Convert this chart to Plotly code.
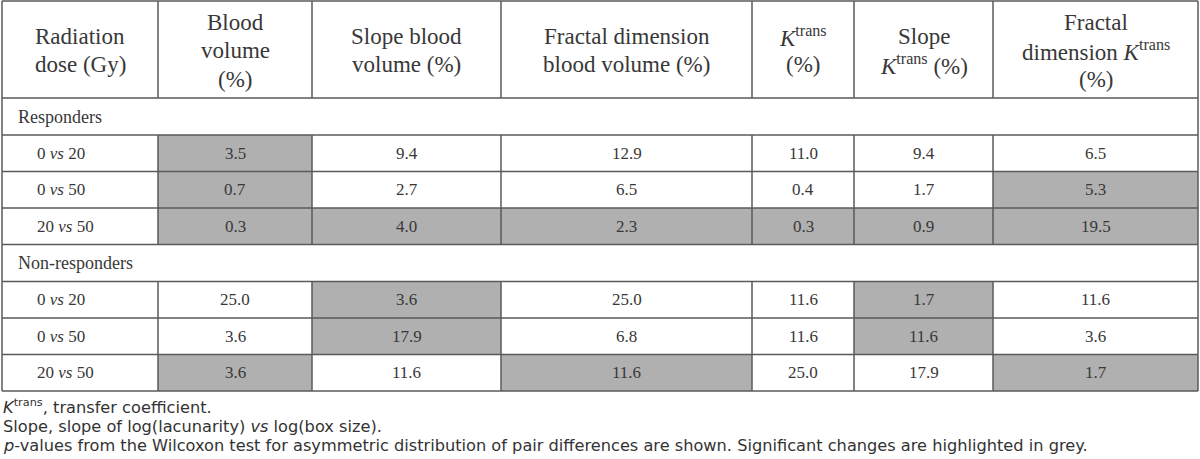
import plotly.graph_objects as go

# ---------------- data ----------------
col_headers = [
    ["Radiation", "dose (Gy)"],
    ["Blood", "volume", "(%)"],
    ["Slope blood", "volume (%)"],
    ["Fractal dimension", "blood volume (%)"],
    ["<i>K</i><sup>trans</sup>", "(%)"],
    ["Slope", "<i>K</i><sup>trans</sup> (%)"],
    ["Fractal", "dimension <i>K</i><sup>trans</sup>", "(%)"],
]
dose_pairs = ["0 <i>vs</i> 20", "0 <i>vs</i> 50", "20 <i>vs</i> 50"]
groups = ["Responders", "Non-responders"]

resp_blood_volume = [3.5, 0.7, 0.3]
resp_slope_bv = [9.4, 2.7, 4.0]
resp_fd_bv = [12.9, 6.5, 2.3]
resp_ktrans = [11.0, 0.4, 0.3]
resp_slope_kt = [9.4, 1.7, 0.9]
resp_fd_kt = [6.5, 5.3, 19.5]
resp_significant = [[1, 0, 0, 0, 0, 0],
                    [1, 0, 0, 0, 0, 1],
                    [1, 1, 1, 1, 1, 1]]

nonresp_blood_volume = [25.0, 3.6, 3.6]
nonresp_slope_bv = [3.6, 17.9, 11.6]
nonresp_fd_bv = [25.0, 6.8, 11.6]
nonresp_ktrans = [11.6, 11.6, 25.0]
nonresp_slope_kt = [1.7, 11.6, 17.9]
nonresp_fd_kt = [11.6, 3.6, 1.7]
nonresp_significant = [[0, 1, 0, 0, 1, 0],
                       [0, 1, 0, 0, 1, 0],
                       [1, 0, 1, 0, 0, 1]]

footnotes = [
    "<i>K</i><sup>trans</sup>, transfer coefficient.",
    "Slope, slope of log(lacunarity) <i>vs</i> log(box size).",
    "<i>p</i>-values from the Wilcoxon test for asymmetric distribution of pair differences are shown. "
    "Significant changes are highlighted in grey.",
]

# ---------------- layout constants ----------------
W, H = 1200, 459
col_edges = [2, 158, 312, 501, 752, 854, 993, 1198]
header_top, header_bot = 1, 98
group_h = 37
row_h = 36.5
line_color = "#5a5a5a"
line_w = 1.5
grey = "#b0b0b0"
serif = "Liberation Serif"
sans = "DejaVu Sans"
txt_col = "#383838"

group_values = [
    [resp_blood_volume, resp_slope_bv, resp_fd_bv, resp_ktrans, resp_slope_kt, resp_fd_kt],
    [nonresp_blood_volume, nonresp_slope_bv, nonresp_fd_bv, nonresp_ktrans, nonresp_slope_kt, nonresp_fd_kt],
]
group_sig = [resp_significant, nonresp_significant]

shapes = []
annotations = []


def hline(y, x0=col_edges[0], x1=col_edges[-1]):
    shapes.append(dict(type="line", xref="x", yref="y", x0=x0, x1=x1, y0=y, y1=y,
                       line=dict(color=line_color, width=line_w), layer="above"))


def vline(x, y0, y1):
    shapes.append(dict(type="line", xref="x", yref="y", x0=x, x1=x, y0=y0, y1=y1,
                       line=dict(color=line_color, width=line_w), layer="above"))


# header
hline(header_top)
hline(header_bot)
for x in col_edges:
    vline(x, header_top, header_bot)
hc = (header_top + header_bot) / 2 + 1
spacing = 28.5
for ci, lines in enumerate(col_headers):
    xc = (col_edges[ci] + col_edges[ci + 1]) / 2
    n = len(lines)
    for li, t in enumerate(lines):
        y = hc + (li - (n - 1) / 2) * spacing
        annotations.append(dict(x=xc, y=y, xref="x", yref="y", text=t, showarrow=False,
                                xanchor="center", yanchor="middle",
                                font=dict(family=serif, size=23, color=txt_col)))

# body
y = header_bot
for gi, gname in enumerate(groups):
    g_top, g_bot = y, y + group_h
    vline(col_edges[0], g_top, g_bot)
    vline(col_edges[-1], g_top, g_bot)
    hline(g_bot)
    annotations.append(dict(x=col_edges[0] + 14, y=(g_top + g_bot) / 2, xref="x", yref="y",
                            text=gname, showarrow=False, xanchor="left", yanchor="middle",
                            font=dict(family=serif, size=18, color=txt_col)))
    y = g_bot
    for ri, pair in enumerate(dose_pairs):
        r_top, r_bot = y, y + row_h
        rc = (r_top + r_bot) / 2
        for ci, vals in enumerate(group_values[gi]):
            x0, x1 = col_edges[ci + 1], col_edges[ci + 2]
            if group_sig[gi][ri][ci]:
                shapes.append(dict(type="rect", xref="x", yref="y", x0=x0, x1=x1,
                                   y0=r_top, y1=r_bot, fillcolor=grey, line=dict(width=0),
                                   layer="below"))
            annotations.append(dict(x=(x0 + x1) / 2, y=rc, xref="x", yref="y",
                                    text=f"{vals[ri]:.1f}", showarrow=False,
                                    xanchor="center", yanchor="middle",
                                    font=dict(family=serif, size=17, color=txt_col)))
        annotations.append(dict(x=col_edges[0] + 33, y=rc, xref="x", yref="y", text=pair,
                                showarrow=False, xanchor="left", yanchor="middle",
                                font=dict(family=serif, size=17, color=txt_col)))
        for x in col_edges:
            vline(x, r_top, r_bot)
        hline(r_bot)
        y = r_bot

# footnotes
foot_y = [406, 426, 445]
for t, fy in zip(footnotes, foot_y):
    annotations.append(dict(x=1, y=fy, xref="x", yref="y", text=t, showarrow=False,
                            xanchor="left", yanchor="middle",
                            font=dict(family=sans, size=16.2, color="#333333")))

fig = go.Figure()
fig.add_trace(go.Scatter(x=[0, W], y=[0, H], mode="markers", marker=dict(opacity=0),
                         hoverinfo="skip", showlegend=False))
fig.update_layout(
    width=W, height=H, margin=dict(l=0, r=0, t=0, b=0),
    paper_bgcolor="white", plot_bgcolor="white",
    xaxis=dict(range=[0, W], visible=False, fixedrange=True),
    yaxis=dict(range=[H, 0], visible=False, fixedrange=True),
    shapes=shapes, annotations=annotations, showlegend=False,
)
fig.write_html("out.html", config={"displayModeBar": False},
               post_script="document.body.style.margin='0';document.body.style.padding='0';")
